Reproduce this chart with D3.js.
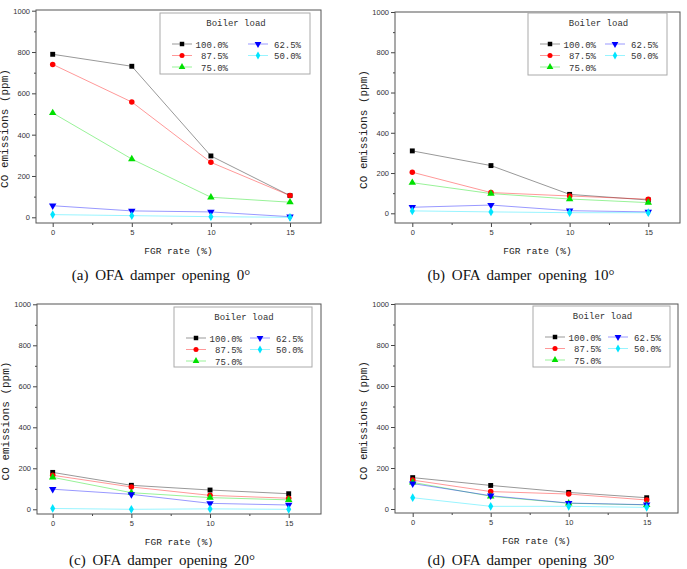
<!DOCTYPE html>
<html>
<head>
<meta charset="utf-8">
<script src="https://cdn.jsdelivr.net/npm/d3@7"></script>
<style>
  body { margin: 0; background: #fff; }
  svg { display: block; }
</style>
</head>
<body>
<svg id="viz" width="687" height="569"></svg>
<script>
// FGR rate (x) and boiler load (series)
var fgrRate = [0, 5, 10, 15];
var loads = ["100.0%", "87.5%", "75.0%", "62.5%", "50.0%"];
var yTicks = [0, 200, 400, 600, 800, 1000];
var xTicks = [0, 5, 10, 15];

// CO emissions (ppm), one row per boiler load
var coOpen0 = [
  [789, 731, 297, 105],
  [740, 558, 266, 105],
  [505, 282, 97, 73],
  [56, 31, 26, 3],
  [13, 8, 3, 0]
];
var coOpen10 = [
  [310, 237, 94, 66],
  [204, 103, 86, 70],
  [152, 98, 71, 53],
  [30, 41, 13, 7],
  [12, 7, 3, 3]
];
var coOpen20 = [
  [180, 117, 94, 76],
  [166, 109, 68, 54],
  [156, 81, 57, 46],
  [98, 73, 29, 21],
  [4, 0, 2, 0]
];
var coOpen30 = [
  [153, 115, 81, 55],
  [141, 85, 73, 44],
  [130, 62, 28, 20],
  [124, 65, 29, 21],
  [55, 13, 13, 8]
];
var captions = [
  "(a) OFA damper opening 0°",
  "(b) OFA damper opening 10°",
  "(c) OFA damper opening 20°",
  "(d) OFA damper opening 30°"
];

var colors = ["#000000", "#ff0000", "#00e000", "#0000ff", "#00e5ff"];
var shapes = [d3.symbolSquare, d3.symbolCircle, d3.symbolTriangle, d3.symbolTriangle, d3.symbolDiamond];
var shapeSize = [24, 24, 24, 24, 22];

var panels = [
  { data: coOpen0, frame: [36, 10, 321, 223], xr: [52.7, 290], yr: [217.3, 10.7], leg: [160, 13, 150, 61], cap: [161, 280] },
  { data: coOpen10, frame: [395, 12, 680, 223], xr: [412.3, 648.3], yr: [213.3, 12], leg: [528, 13, 139, 62], cap: [521, 280] },
  { data: coOpen20, frame: [37, 304, 321, 514], xr: [52.7, 288.7], yr: [509.3, 304.3], leg: [174, 307, 138, 60], cap: [162, 565] },
  { data: coOpen30, frame: [395, 304, 678, 513], xr: [412.7, 646.7], yr: [509, 304], leg: [533, 306, 137, 61], cap: [521, 565] }
];

var svg = d3.select("#viz");
var mono = "'Liberation Mono', 'DejaVu Sans Mono', monospace";
var sans = "'Liberation Sans', Arial, sans-serif";

panels.forEach(function (p, i) {
  var f = p.frame;
  var x = d3.scaleLinear().domain([0, 15]).range(p.xr);
  var y = d3.scaleLinear().domain([0, 1000]).range(p.yr);
  var g = svg.append("g");

  // minor ticks
  g.append("g")
    .attr("transform", "translate(0," + f[3] + ")")
    .call(d3.axisBottom(x).tickValues([2.5, 7.5, 12.5]).tickSize(2).tickFormat(""))
    .call(function (a) { a.select(".domain").remove(); a.selectAll("line").attr("stroke", "#444"); });
  g.append("g")
    .attr("transform", "translate(" + f[0] + ",0)")
    .call(d3.axisLeft(y).tickValues([100, 300, 500, 700, 900]).tickSize(2).tickFormat(""))
    .call(function (a) { a.select(".domain").remove(); a.selectAll("line").attr("stroke", "#444"); });

  // major axes
  g.append("g")
    .attr("transform", "translate(0," + f[3] + ")")
    .call(d3.axisBottom(x).tickValues(xTicks).tickSize(4).tickPadding(3).tickFormat(d3.format("d")))
    .call(function (a) {
      a.select(".domain").remove();
      a.selectAll("line").attr("stroke", "#444");
      a.selectAll("text").attr("fill", "#333").attr("font-size", 7.5).attr("font-family", sans);
    });
  g.append("g")
    .attr("transform", "translate(" + f[0] + ",0)")
    .call(d3.axisLeft(y).tickValues(yTicks).tickSize(4).tickPadding(2).tickFormat(d3.format("d")))
    .call(function (a) {
      a.select(".domain").remove();
      a.selectAll("line").attr("stroke", "#444");
      a.selectAll("text").attr("fill", "#333").attr("font-size", 7.5).attr("font-family", sans);
    });

  // frame
  g.append("rect")
    .attr("x", f[0]).attr("y", f[1])
    .attr("width", f[2] - f[0]).attr("height", f[3] - f[1])
    .attr("fill", "none").attr("stroke", "#555").attr("stroke-width", 1);

  // series
  var line = d3.line().x(function (d, j) { return x(fgrRate[j]); }).y(function (d) { return y(d); });
  p.data.forEach(function (vals, s) {
    g.append("path")
      .attr("d", line(vals))
      .attr("fill", "none")
      .attr("stroke", colors[s])
      .attr("stroke-opacity", 0.45)
      .attr("stroke-width", 0.9);
  });
  p.data.forEach(function (vals, s) {
    g.selectAll(null).data(vals).join("path")
      .attr("d", d3.symbol(shapes[s], shapeSize[s]))
      .attr("transform", function (d, j) {
        return "translate(" + x(fgrRate[j]) + "," + y(d) + ")" + (s === 3 ? " rotate(180)" : "");
      })
      .attr("fill", colors[s]);
  });

  // axis titles
  g.append("text")
    .attr("x", (f[0] + f[2]) / 2).attr("y", f[3] + 31)
    .attr("text-anchor", "middle")
    .attr("font-family", mono).attr("font-size", 9.5).attr("fill", "#222")
    .text("FGR rate (%)");
  var cy = (f[1] + f[3]) / 2 + 12;
  g.append("text")
    .attr("transform", "translate(" + (f[0] - 32) + "," + cy + ") rotate(-90)")
    .attr("text-anchor", "middle")
    .attr("dy", "0.35em")
    .attr("font-family", mono).attr("font-size", 11).attr("fill", "#222")
    .text("CO emissions (ppm)");

  // legend
  var L = p.leg;
  var lg = g.append("g").attr("transform", "translate(" + L[0] + "," + L[1] + ")");
  lg.append("rect").attr("width", L[2]).attr("height", L[3])
    .attr("fill", "#fff").attr("stroke", "#aaa").attr("stroke-width", 1);
  lg.append("text")
    .attr("x", L[2] / 2 + 1).attr("y", 13)
    .attr("text-anchor", "middle")
    .attr("font-family", mono).attr("font-size", 9).attr("fill", "#333")
    .text("Boiler load");
  var pos = [[0, 0], [0, 1], [0, 2], [1, 0], [1, 1]];
  loads.forEach(function (name, s) {
    var col = pos[s][0], row = pos[s][1];
    var lx = col === 0 ? 12 : L[2] - 62;
    var ly = 31 + row * 11.5;
    lg.append("line")
      .attr("x1", lx).attr("x2", lx + 20).attr("y1", ly).attr("y2", ly)
      .attr("stroke", colors[s]).attr("stroke-opacity", 0.45).attr("stroke-width", 0.9);
    lg.append("path")
      .attr("d", d3.symbol(shapes[s], shapeSize[s] - 4))
      .attr("transform", "translate(" + (lx + 10) + "," + ly + ")" + (s === 3 ? " rotate(180)" : ""))
      .attr("fill", colors[s]);
    lg.append("text")
      .attr("x", col === 0 ? 68 : L[2] - 9).attr("y", ly + 3.5)
      .attr("text-anchor", "end")
      .attr("font-family", mono).attr("font-size", 9).attr("fill", "#333")
      .text(name);
  });

  // caption
  svg.append("text")
    .attr("x", p.cap[0]).attr("y", p.cap[1])
    .attr("text-anchor", "middle")
    .attr("font-family", "'Liberation Serif', 'Times New Roman', serif")
    .attr("font-size", 15).attr("word-spacing", 3).attr("fill", "#111")
    .text(captions[i]);
});
</script>
</body>
</html>
